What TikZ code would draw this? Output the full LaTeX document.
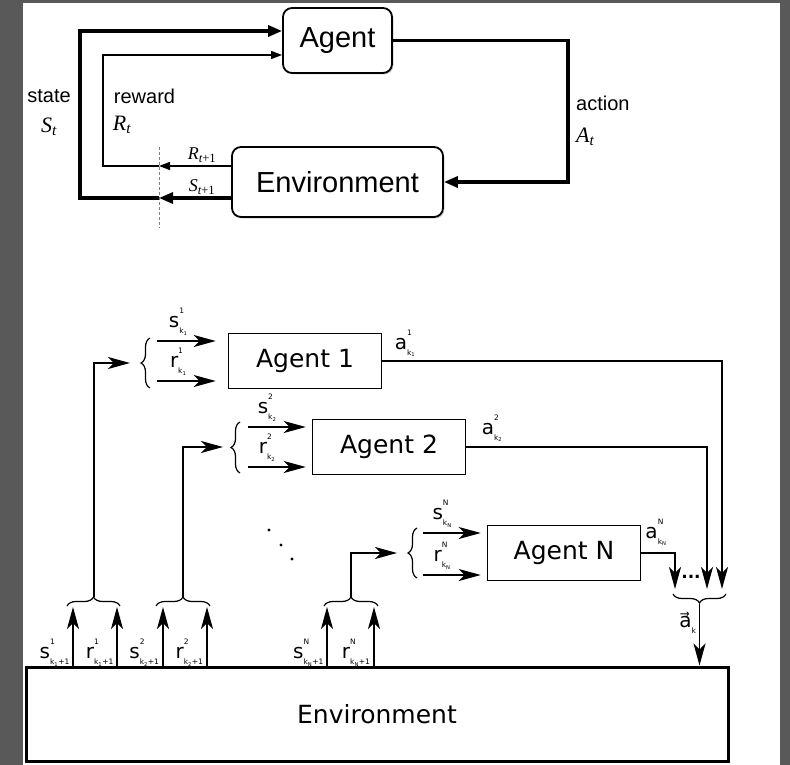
\documentclass[tikz,border=0pt]{standalone}
\usepackage{amsmath}
\usepackage{fontspec}
\setmainfont{Liberation Sans}
\newfontfamily\vfont{DejaVu Sans}
\newfontfamily\tfont{Liberation Serif}
\usetikzlibrary{arrows.meta,positioning,calc,decorations.pathreplacing,shadows}
\definecolor{framegray}{HTML}{595959}
\newcommand{\fs}[1]{\fontsize{#1}{#1}\selectfont}
\newcommand{\ssym}[3]{#1\rlap{\raisebox{14pt}{\fs{7.5}#2}}\raisebox{-6pt}{\fs{7.5}#3}}
\newcommand{\tv}[2]{{\tfont\itshape #1\textsubscript{#2}}}

\begin{document}
\begin{tikzpicture}[x=1pt, y=-1pt,
  rbox/.style={draw, rounded corners=9pt, line width=1.8pt, fill=white, inner sep=0pt,
               font=\fs{29}, drop shadow={shadow xshift=1.5pt, shadow yshift=-1.5pt, opacity=0.35}},
  abox/.style={draw, line width=1.5pt, fill=white, inner sep=0pt,
               minimum width=153pt, minimum height=55pt, font=\vfont\fs{25}},
  thk/.style={line width=3.2pt},
  thn/.style={line width=1.3pt},
  fed/.style={line width=2pt},
  tarr/.style={-{Triangle[length=14pt,width=11pt]}},
  sarr/.style={-{Triangle[length=11pt,width=8pt]}},
  arr/.style={-{Stealth[length=22pt,width=12pt,inset=6pt]}},
  brc/.style={decorate, decoration={brace, amplitude=9pt}, line width=1.2pt},
  lbl/.style={font=\fs{20}, inner sep=1pt},
  mlbl/.style={font=\fs{22}, inner sep=1pt},
  vlbl/.style={font=\vfont\fs{20}, inner sep=1pt}]

  \fill[framegray] (0,0) rectangle (790,765);
  \fill[white] (23,3) rectangle (780,765);
  \useasboundingbox (0,0) rectangle (790,765);

  % single agent loop
  \node[rbox, minimum width=109pt, minimum height=65pt] (agent) at (337.5,40.5) {Agent};
  \node[rbox, minimum width=211pt, minimum height=70pt] (env) at (337.5,182) {Environment};

  \coordinate (dtop) at (159,147);
  \coordinate (dbot) at (159,228);
  \coordinate (sb) at (80,198);
  \coordinate (st) at (80,31);
  \coordinate (rb) at (103,166);
  \coordinate (rt) at (103,55);
  \coordinate (ar) at (568,42);

  \draw[gray, line width=0.8pt, dash pattern=on 3pt off 2pt] (dtop) -- (dbot);
  \draw[thk, tarr] (env.west |- sb) -- (dtop |- sb);
  \draw[thk, tarr] (dtop |- sb) -- (sb) -- (st) -- (agent.west |- st);
  \draw[thn, sarr] (env.west |- rb) -- (dtop |- rb);
  \draw[thn, sarr] (dtop |- rb) -- (rb) -- (rt) -- (agent.west |- rt);
  \draw[thk, tarr] (agent.east) -- (agent.east -| ar) -- (ar |- env.east) -- (env.east);

  \node[lbl] (lstate) at (49,96) {state};
  \node[mlbl] (lst) at (49,127) {\tv{S}{t}};
  \node[lbl] (lrew) at (144.5,96) {reward};
  \node[mlbl] (lrt) at (122,125) {\tv{R}{t}};
  \node[lbl, anchor=west] (lact) at (575,103) {action};
  \node[mlbl, anchor=west] (lat) at (575,137) {\tv{A}{t}};
  \node[mlbl, font=\fs{18}] (lr1) at (202,155) {\tv{R}{t\upshape+1}};
  \node[mlbl, font=\fs{18}] (ls1) at (202,187) {\tv{S}{t\upshape+1}};

  % multi agent
  \node[abox] (a1) at (305,361) {Agent 1};
  \node[abox] (a2) at (389,447) {Agent 2};
  \node[abox] (aN) at (564,553) {Agent N};
  \node[draw, line width=3pt, minimum width=702pt, minimum height=94pt, inner sep=0pt,
        font=\vfont\fs{25}] (world) at (377,714) {Environment};

  \coordinate (s1) at (157,341);
  \coordinate (r1) at (157,381);
  \coordinate (f1) at (130,363);
  \coordinate (b1) at (93.5,597);
  \coordinate (s2) at (248,427);
  \coordinate (r2) at (248,467);
  \coordinate (f2) at (223,447);
  \coordinate (b2) at (183,597);
  \coordinate (sN) at (423,533);
  \coordinate (rN) at (423,575);
  \coordinate (fN) at (397,553);
  \coordinate (bN) at (351,597);

  \draw[thn, arr, shorten >=12pt] (s1) -- (s1 -| a1.west) node[vlbl, pos=0.3, above=4pt] {\ssym{s}{1}{k\textsubscript{1}}};
  \draw[thn, arr, shorten >=12pt] (r1) -- (r1 -| a1.west) node[vlbl, pos=0.3, above=4pt] {\ssym{r}{1}{k\textsubscript{1}}};
  \draw[thn, arr, shorten >=6pt] (s2) -- (s2 -| a2.west) node[vlbl, pos=0.3, above=4pt] {\ssym{s}{2}{k\textsubscript{2}}};
  \draw[thn, arr, shorten >=6pt] (r2) -- (r2 -| a2.west) node[vlbl, pos=0.3, above=4pt] {\ssym{r}{2}{k\textsubscript{2}}};
  \draw[thn, arr, shorten >=6pt] (sN) -- (sN -| aN.west) node[vlbl, pos=0.3, above=4pt] {\ssym{s}{N}{k\textsubscript{N}}};
  \draw[thn, arr, shorten >=6pt] (rN) -- (rN -| aN.west) node[vlbl, pos=0.3, above=4pt] {\ssym{r}{N}{k\textsubscript{N}}};

  \draw[brc] (150,388) -- (150,338);
  \draw[brc] (240,473) -- (240,422);
  \draw[brc] (417,578) -- (417,528);

  \draw[fed, arr] (b1) |- (f1);
  \draw[fed, arr] (b2) |- (f2);
  \draw[fed, arr] (bN) |- (fN);

  \foreach \p in {(269,530),(281,545),(292,559)} \fill \p circle (1.7pt);

  \coordinate (u1) at (73,607);
  \coordinate (u2) at (117,607);
  \coordinate (u3) at (163,607);
  \coordinate (u4) at (207,607);
  \coordinate (u5) at (327,607);
  \coordinate (u6) at (374,607);

  \draw[thn, arr] (world.north -| u1) -- (u1) node[vlbl, pos=0.22, left=2pt] {\ssym{s}{1}{k\textsubscript{1}+1}};
  \draw[thn, arr] (world.north -| u2) -- (u2) node[vlbl, pos=0.22, left=2pt] {\ssym{r}{1}{k\textsubscript{1}+1}};
  \draw[fed, arr] (world.north -| u3) -- (u3) node[vlbl, pos=0.22, left=2pt] {\ssym{s}{2}{k\textsubscript{2}+1}};
  \draw[fed, arr] (world.north -| u4) -- (u4) node[vlbl, pos=0.22, left=2pt] {\ssym{r}{2}{k\textsubscript{2}+1}};
  \draw[thn, arr] (world.north -| u5) -- (u5) node[vlbl, pos=0.22, left=2pt] {\ssym{s}{N}{k\textsubscript{N}+1}};
  \draw[fed, arr] (world.north -| u6) -- (u6) node[vlbl, pos=0.22, left=2pt] {\ssym{r}{N}{k\textsubscript{N}+1}};

  \draw[brc] (67,606) -- (120,606);
  \draw[brc] (156,606) -- (210,606);
  \draw[brc] (324,606) -- (378,606);

  \coordinate (o1) at (722,589);
  \coordinate (o2) at (707,589);
  \coordinate (oN) at (675,589);
  \draw[thn, arr] (a1.east) -| (o1);
  \draw[thn, arr] (a2.east) -| (o2);
  \draw[thn, arr] (aN.east) -| (oN);

  \node[vlbl] (la1) at (405,343) {\ssym{a}{1}{k\textsubscript{1}}};
  \node[vlbl] (la2) at (492,428) {\ssym{a}{2}{k\textsubscript{2}}};
  \node[vlbl] (laN) at (656,532) {\ssym{a}{N}{k\textsubscript{N}}};
  \node[vlbl, font=\vfont\bfseries\fs{17}] (odots) at (691,577) {...};

  \draw[brc] (726,594) -- (673,594);
  \coordinate (ob) at (699.5,604);
  \draw[thn, arr] (ob) -- (ob |- world.north) node[vlbl, pos=0.3, left=2pt] {a⃗\raisebox{-6pt}{\fs{7.5}k}};
\end{tikzpicture}
\end{document}
